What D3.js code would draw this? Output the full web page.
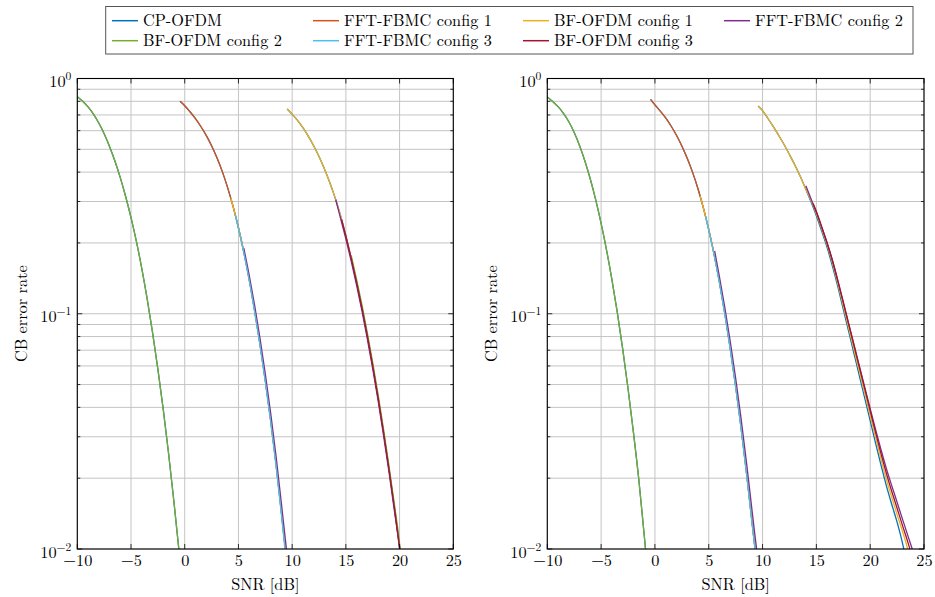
<!DOCTYPE html>
<html><head><meta charset="utf-8">
<script src="https://cdn.jsdelivr.net/npm/d3@7"></script>
<style>
html,body{margin:0;padding:0;background:#fff;}
svg text{font-family:"Latin Modern Roman","Liberation Serif",serif !important;fill:#000;}
</style></head>
<body><svg id="c" width="935" height="597"></svg>
<script>
// ---------- data ----------
const seriesNames = ["CP-OFDM","FFT-FBMC config 1","BF-OFDM config 1","FFT-FBMC config 2","BF-OFDM config 2","FFT-FBMC config 3","BF-OFDM config 3"];
const xTicks = [-10,-5,0,5,10,15,20,25];
const yTicks = [1,0.1,0.01];
const yTickExp = ["0","\u22121","\u22122"];
const xLabel = "SNR [dB]";
const yLabel = "CB error rate";

// left panel  [SNR dB, CB error rate]
const leftLow = [[-10,0.837],[-9.5,0.80],[-9,0.757],[-8.5,0.706],[-8,0.647],[-7.5,0.582],[-7,0.514],[-6.5,0.446],[-6,0.379],[-5.5,0.315],[-5,0.256],[-4.5,0.203],[-4,0.156],[-3.5,0.116],[-3,0.0836],[-2.5,0.0582],[-2,0.0392],[-1.5,0.0254],[-1,0.0158],[-0.5,0.0095]];
const leftMidOrange = [[-0.44,0.80],[0,0.766],[0.5,0.721],[1,0.675],[1.5,0.625],[2,0.573],[2.5,0.518],[3,0.46],[3.5,0.402],[4,0.343],[4.5,0.286],[5,0.232],[5.5,0.183],[6,0.14],[6.5,0.1035],[7,0.0746],[7.5,0.0522],[8,0.0353],[8.5,0.023],[9,0.0143],[9.45,0.0092]];
const leftMidYellow = [[4.3,0.31],[4.5,0.286],[5,0.232],[5.5,0.183],[6,0.14],[6.5,0.1035],[7,0.0746],[7.5,0.0522],[8,0.0353],[8.5,0.023],[9,0.0143],[9.45,0.0092]];
const leftMidCyan = [[4.7,0.263],[5,0.231],[5.5,0.182],[6,0.139],[6.5,0.1025],[7,0.0738],[7.5,0.0515],[8,0.0348],[8.5,0.0226],[9,0.014],[9.4,0.0093]];
const leftMidPurple = [[5.5,0.19],[6,0.146],[6.5,0.109],[7,0.079],[7.5,0.0555],[8,0.0378],[8.5,0.0248],[9,0.0156],[9.5,0.0097],[9.6,0.0089]];
const leftHighYellow = [[9.53,0.742],[10,0.705],[10.5,0.664],[11,0.618],[11.5,0.569],[12,0.518],[12.5,0.466],[13,0.413],[13.5,0.361],[14,0.311],[14.5,0.262],[15,0.214],[15.5,0.172],[16,0.136],[16.5,0.1057],[17,0.0805],[17.5,0.0601],[18,0.044],[18.5,0.0315],[19,0.0221],[19.5,0.0152],[20,0.0102],[20.1,0.0094]];
const leftHighPurple = [[14.05,0.306],[14.5,0.255],[15,0.208],[15.5,0.167],[16,0.132],[16.5,0.1025],[17,0.078],[17.5,0.0583],[18,0.0427],[18.5,0.0305],[19,0.0214],[19.5,0.0147],[20,0.0099],[20.05,0.0094]];
const leftHighGreen = [[15.5,0.177],[16,0.14],[16.5,0.109],[17,0.083],[17.5,0.062],[18,0.0454],[18.5,0.0325],[19,0.0228],[19.5,0.0157],[20,0.0105],[20.1,0.0094]];
const leftHighRed = [[14.6,0.252],[15,0.214],[15.5,0.172],[16,0.136],[16.5,0.1057],[17,0.0805],[17.5,0.0601],[18,0.044],[18.5,0.0315],[19,0.0221],[19.5,0.0152],[20,0.0102],[20.1,0.0094]];

// right panel  [SNR dB, CB error rate]
const rightLow = [[-10,0.835],[-9.5,0.798],[-9,0.759],[-8.5,0.711],[-8,0.655],[-7.5,0.589],[-7,0.518],[-6.5,0.445],[-6,0.373],[-5.5,0.305],[-5,0.242],[-4.5,0.187],[-4,0.14],[-3.5,0.1016],[-3,0.0711],[-2.5,0.0481],[-2,0.0314],[-1.5,0.0198],[-1,0.0115],[-0.8,0.0092]];
const rightMidOrange = [[-0.4,0.815],[0,0.772],[0.5,0.727],[1,0.68],[1.5,0.628],[2,0.574],[2.5,0.517],[3,0.458],[3.5,0.399],[4,0.34],[4.5,0.282],[5,0.228],[5.5,0.179],[6,0.136],[6.5,0.1],[7,0.0712],[7.5,0.0493],[8,0.033],[8.5,0.0213],[9,0.0133],[9.4,0.0092]];
const rightMidYellow = [[4.2,0.317],[4.5,0.282],[5,0.228],[5.5,0.179],[6,0.136],[6.5,0.1],[7,0.0712],[7.5,0.0493],[8,0.033],[8.5,0.0213],[9,0.0133],[9.4,0.0092]];
const rightMidCyan = [[4.7,0.26],[5,0.227],[5.5,0.178],[6,0.135],[6.5,0.099],[7,0.0705],[7.5,0.0488],[8,0.0326],[8.5,0.021],[9,0.0131],[9.4,0.0091]];
const rightMidPurple = [[5.55,0.185],[6,0.143],[6.5,0.106],[7,0.0762],[7.5,0.0533],[8,0.036],[8.5,0.0235],[9,0.0149],[9.5,0.0096],[9.6,0.0089]];
const rightHighBlue = [[9.59,0.764],[10,0.73],[10.5,0.676],[11,0.624],[11.5,0.573],[12,0.524],[12.5,0.475],[13,0.429],[13.5,0.384],[14,0.34],[14.5,0.299],[15,0.261],[15.5,0.224],[16,0.191],[16.5,0.159],[17,0.13],[17.5,0.1047],[18,0.0841],[18.5,0.0676],[19,0.0543],[19.5,0.0437],[20,0.0351],[20.5,0.0282],[21,0.0228],[21.5,0.0186],[22,0.0155],[22.5,0.013],[23,0.0106],[23.25,0.0094]];
const rightHighYellow = [[9.59,0.764],[10,0.73],[10.5,0.676],[11,0.624],[11.5,0.573],[12,0.524],[12.5,0.475],[13,0.429],[13.5,0.384],[14,0.34],[14.5,0.303],[15,0.266],[15.5,0.229],[16,0.196],[16.5,0.164],[17,0.134],[17.5,0.108],[18,0.0872],[18.5,0.0703],[19,0.0567],[19.5,0.0458],[20,0.0369],[20.5,0.0298],[21,0.0242],[21.5,0.0198],[22,0.0166],[22.5,0.014],[23,0.0119],[23.5,0.0099],[23.6,0.0094]];
const rightHighPurple = [[14.02,0.35],[14.5,0.308],[15,0.27],[15.5,0.233],[16,0.2],[16.5,0.168],[17,0.138],[17.5,0.112],[18,0.0908],[18.5,0.0738],[19,0.0598],[19.5,0.0486],[20,0.0395],[20.5,0.0322],[21,0.0265],[21.5,0.022],[22,0.0186],[22.5,0.0158],[23,0.0134],[23.5,0.0114],[24,0.0097],[24.1,0.0094]];
const rightHighRed = [[14.7,0.294],[15,0.272],[15.5,0.234],[16,0.2],[16.5,0.168],[17,0.138],[17.5,0.112],[18,0.0905],[18.5,0.0733],[19,0.0592],[19.5,0.0479],[20,0.0387],[20.5,0.0313],[21,0.0255],[21.5,0.021],[22,0.0176],[22.5,0.0149],[23,0.0126],[23.5,0.0107],[23.8,0.0096]];

// which data arrays each series draws, per panel (legend order)
const leftSegments = [
  [leftLow, leftMidOrange, leftHighYellow],
  [leftMidOrange],
  [leftMidYellow, leftHighYellow],
  [leftMidPurple, leftHighPurple],
  [leftLow, leftHighGreen],
  [leftMidCyan],
  [leftHighRed]
];
const rightSegments = [
  [rightLow, rightMidOrange, rightHighBlue],
  [rightMidOrange],
  [rightMidYellow, rightHighYellow],
  [rightMidPurple, rightHighPurple],
  [rightLow],
  [rightMidCyan],
  [rightHighRed]
];

// ---------- styles ----------
const colors = ["#0072BD","#D95319","#EDB120","#7E2F8E","#77AC30","#4DBEEE","#A2142F"];
const FS = 16.3;

const svg = d3.select("#c");
const yTop = 78.5, yBot = 549;
const panels = [
  {x0:77.3, x1:453.3, segs:leftSegments, ylabX:27},
  {x0:547.3, x1:924, segs:rightSegments, ylabX:497}
];

panels.forEach((p,pi)=>{
  const x = d3.scaleLinear().domain([-10,25]).range([p.x0,p.x1]);
  const y = d3.scaleLog().domain([0.01,1]).range([yBot,yTop]);
  const g = svg.append("g");

  const yAll = [];
  [0.01,0.1].forEach(d=>{ for(let k=1;k<10;k++) yAll.push(d*k); });
  yAll.push(1);

  // grid
  const grid = g.append("g").attr("stroke","#c4c4c4").attr("stroke-width",1).attr("fill","none");
  yAll.forEach(v=>{
    grid.append("line").attr("x1",p.x0).attr("x2",p.x1).attr("y1",y(v)).attr("y2",y(v));
  });
  xTicks.forEach(v=>{
    grid.append("line").attr("x1",x(v)).attr("x2",x(v)).attr("y1",yTop).attr("y2",yBot);
  });

  const cid = "clip"+pi;
  svg.append("clipPath").attr("id",cid).append("rect")
    .attr("x",p.x0).attr("y",yTop).attr("width",p.x1-p.x0).attr("height",yBot-yTop);

  const line = d3.line().x(d=>x(d[0])).y(d=>y(d[1])).curve(d3.curveMonotoneX);
  const lg = g.append("g").attr("clip-path",`url(#${cid})`);
  p.segs.forEach((segs,si)=>{
    segs.forEach(arr=>{
      lg.append("path").datum(arr).attr("d",line)
        .attr("fill","none").attr("stroke",colors[si]).attr("stroke-width",1.3)
        .attr("stroke-linejoin","round");
    });
  });

  // ticks (inside)
  const tk = g.append("g").attr("stroke","#000").attr("stroke-width",0.8);
  xTicks.forEach(v=>{
    tk.append("line").attr("x1",x(v)).attr("x2",x(v)).attr("y1",yBot).attr("y2",yBot-5);
    tk.append("line").attr("x1",x(v)).attr("x2",x(v)).attr("y1",yTop).attr("y2",yTop+5);
  });
  yAll.forEach(v=>{
    const major = yTicks.includes(+v.toPrecision(6));
    const L = major?5:3;
    tk.append("line").attr("x1",p.x0).attr("x2",p.x0+L).attr("y1",y(v)).attr("y2",y(v));
    tk.append("line").attr("x1",p.x1).attr("x2",p.x1-L).attr("y1",y(v)).attr("y2",y(v));
  });

  g.append("rect").attr("x",p.x0).attr("y",yTop).attr("width",p.x1-p.x0).attr("height",yBot-yTop)
    .attr("fill","none").attr("stroke","#000").attr("stroke-width",1.1);

  // x axis labels via d3 axis
  const xa = g.append("g").attr("transform",`translate(0,${yBot})`)
    .call(d3.axisBottom(x).tickValues(xTicks).tickSize(0).tickPadding(0)
      .tickFormat(d=> d<0 ? "\u2212"+Math.abs(d) : String(d)));
  xa.attr("font-size",FS);
  xa.select(".domain").remove();
  xa.selectAll("text").attr("dy",null).attr("y",17);

  // y axis labels via d3 axis
  const ya = g.append("g").attr("transform",`translate(${p.x0},0)`)
    .call(d3.axisLeft(y).tickValues(yTicks).tickSize(0).tickPadding(0).tickFormat(()=>""));
  ya.attr("font-size",FS);
  ya.select(".domain").remove();
  ya.selectAll(".tick text").each(function(d){
    const t = d3.select(this);
    t.attr("x",-6).attr("dy",null).attr("y",8).attr("text-anchor","end");
    t.text(null);
    t.append("tspan").text("10");
    t.append("tspan").attr("font-size",11.5).attr("dy",-7).text(yTickExp[yTicks.indexOf(d)]);
  });

  g.append("text").attr("x",(p.x0+p.x1)/2).attr("y",590).attr("text-anchor","middle")
    .attr("font-size",FS).text(xLabel);
  g.append("text").attr("transform",`translate(${p.ylabX},${(yTop+yBot)/2}) rotate(-90)`)
    .attr("text-anchor","middle").attr("font-size",FS).text(yLabel);
});

// ---------- legend ----------
const leg = svg.append("g");
leg.append("rect").attr("x",105.7).attr("y",6.5).attr("width",807.3).attr("height",47.5)
  .attr("fill","#fff").attr("stroke","#555").attr("stroke-width",1);
const colX = [112,313,523,724];
const rowY = [20.7,40.7];
seriesNames.forEach((n,i)=>{
  const cx = colX[i%4], cy = rowY[Math.floor(i/4)];
  leg.append("line").attr("x1",cx).attr("x2",cx+26).attr("y1",cy).attr("y2",cy)
    .attr("stroke",colors[i]).attr("stroke-width",1.5);
  leg.append("text").attr("x",cx+31).attr("y",cy+5.2).attr("font-size",FS).text(n);
});
</script></body></html>
